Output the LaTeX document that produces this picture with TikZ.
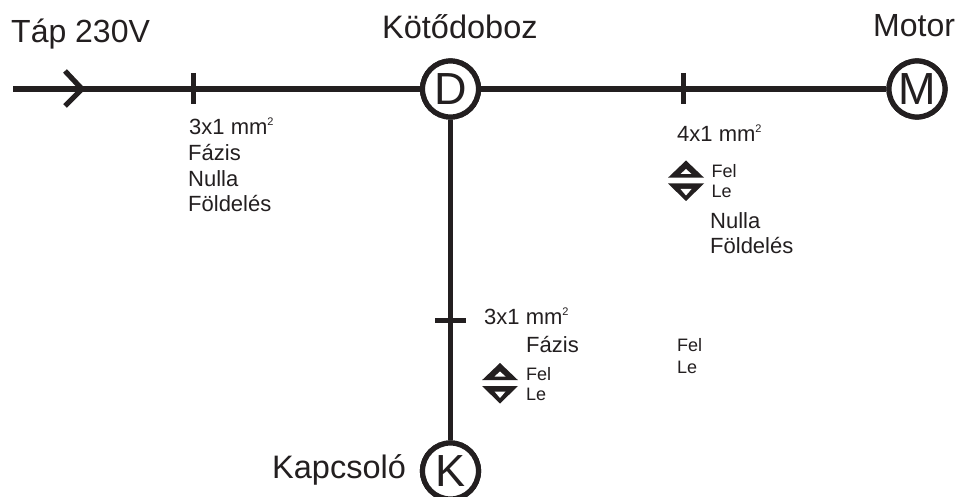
\documentclass[tikz,border=0pt]{standalone}
\usepackage{fontspec}
\setmainfont{Liberation Sans}
\definecolor{ink}{HTML}{231F20}
\tikzset{
  lbl/.style={anchor=base west,inner sep=0pt,text=ink,font=\fontsize{#1}{#1}\selectfont},
  wire/.style={draw=ink,line width=5.2pt},
  tick/.style={draw=ink,line width=5pt},
  term/.style={circle,draw=ink,line width=5.2pt,fill=white,minimum size=56pt,inner sep=0pt,text=ink,font=\fontsize{45}{45}\selectfont},
  tri/.style={fill=ink,draw=none},
  hole/.style={fill=white,draw=none}
}
\newcommand{\sqmark}{\raisebox{9pt}{\fontsize{11}{11}\selectfont 2}}
\newcommand{\updown}[2]{%
  \fill[tri] (#1-18,#2-0.3) -- (#1,#2-17.5) -- (#1+18,#2-0.3) -- cycle;
  \fill[hole] (#1-5.5,#2-4) -- (#1,#2-9) -- (#1+5.5,#2-4) -- cycle;
  \fill[tri] (#1-18,#2+5.5) -- (#1,#2+23) -- (#1+18,#2+5.5) -- cycle;
  \fill[hole] (#1-5.5,#2+11) -- (#1,#2+17.5) -- (#1+5.5,#2+11) -- cycle;
}
\begin{document}
\begin{tikzpicture}[x=1pt,y=-1pt]
\useasboundingbox (0,0) rectangle (959,497);
\clip (0,0) rectangle (959,497);
\fill[white] (0,0) rectangle (959,497);
\node[term] (D) at (450.5,89) {D};
\node[term] (M) at (917,89) {M};
\node[term] (K) at (450.5,471) {K};
\coordinate (src) at (13,89);
\coordinate (a1) at (65,71);
\coordinate (a2) at (82,89);
\coordinate (a3) at (65,106);
\coordinate (t1a) at (193,73);
\coordinate (t1b) at (193,104);
\coordinate (t2a) at (683,73);
\coordinate (t2b) at (683,104);
\coordinate (t3a) at (435,320.5);
\coordinate (t3b) at (466,320.5);
\draw[wire] (src) -- (D);
\draw[wire] (D) -- (M);
\draw[wire] (D) -- (K);
\draw[wire] (a1) -- (a2) -- (a3);
\draw[tick] (t1a) -- (t1b);
\draw[tick] (t2a) -- (t2b);
\draw[tick] (t3a) -- (t3b);
\node[term] at (D) {D};
\node[term] at (M) {M};
\node[term] at (K) {K};
\updown{686}{178}
\updown{500}{380.5}
\node[lbl=32] (n1) at (11,43) {Táp 230V};
\node[lbl=32.5] (n2) at (382,38.5) {Kötődoboz};
\node[lbl=32] (n3) at (873,37) {Motor};
\node[lbl=32.5] (n4) at (272,478) {Kapcsoló};
\node[lbl=22] (n5) at (189,135) {3x1 mm\sqmark};
\node[lbl=22] (n6) at (188,160.5) {Fázis};
\node[lbl=22] (n7) at (188,186.5) {Nulla};
\node[lbl=22] (n8) at (188,211.5) {Földelés};
\node[lbl=22] (n9) at (677,141.5) {4x1 mm\sqmark};
\node[lbl=18] (n10) at (711.5,177.5) {Fel};
\node[lbl=18] (n11) at (711.5,198) {Le};
\node[lbl=22] (n12) at (710,229) {Nulla};
\node[lbl=22] (n13) at (710,254) {Földelés};
\node[lbl=22] (n14) at (484,324) {3x1 mm\sqmark};
\node[lbl=22] (n15) at (526,352.5) {Fázis};
\node[lbl=18] (n16) at (526,380) {Fel};
\node[lbl=18] (n17) at (526,400.5) {Le};
\node[lbl=18] (n18) at (677,351) {Fel};
\node[lbl=18] (n19) at (677,373) {Le};
\end{tikzpicture}
\end{document}
